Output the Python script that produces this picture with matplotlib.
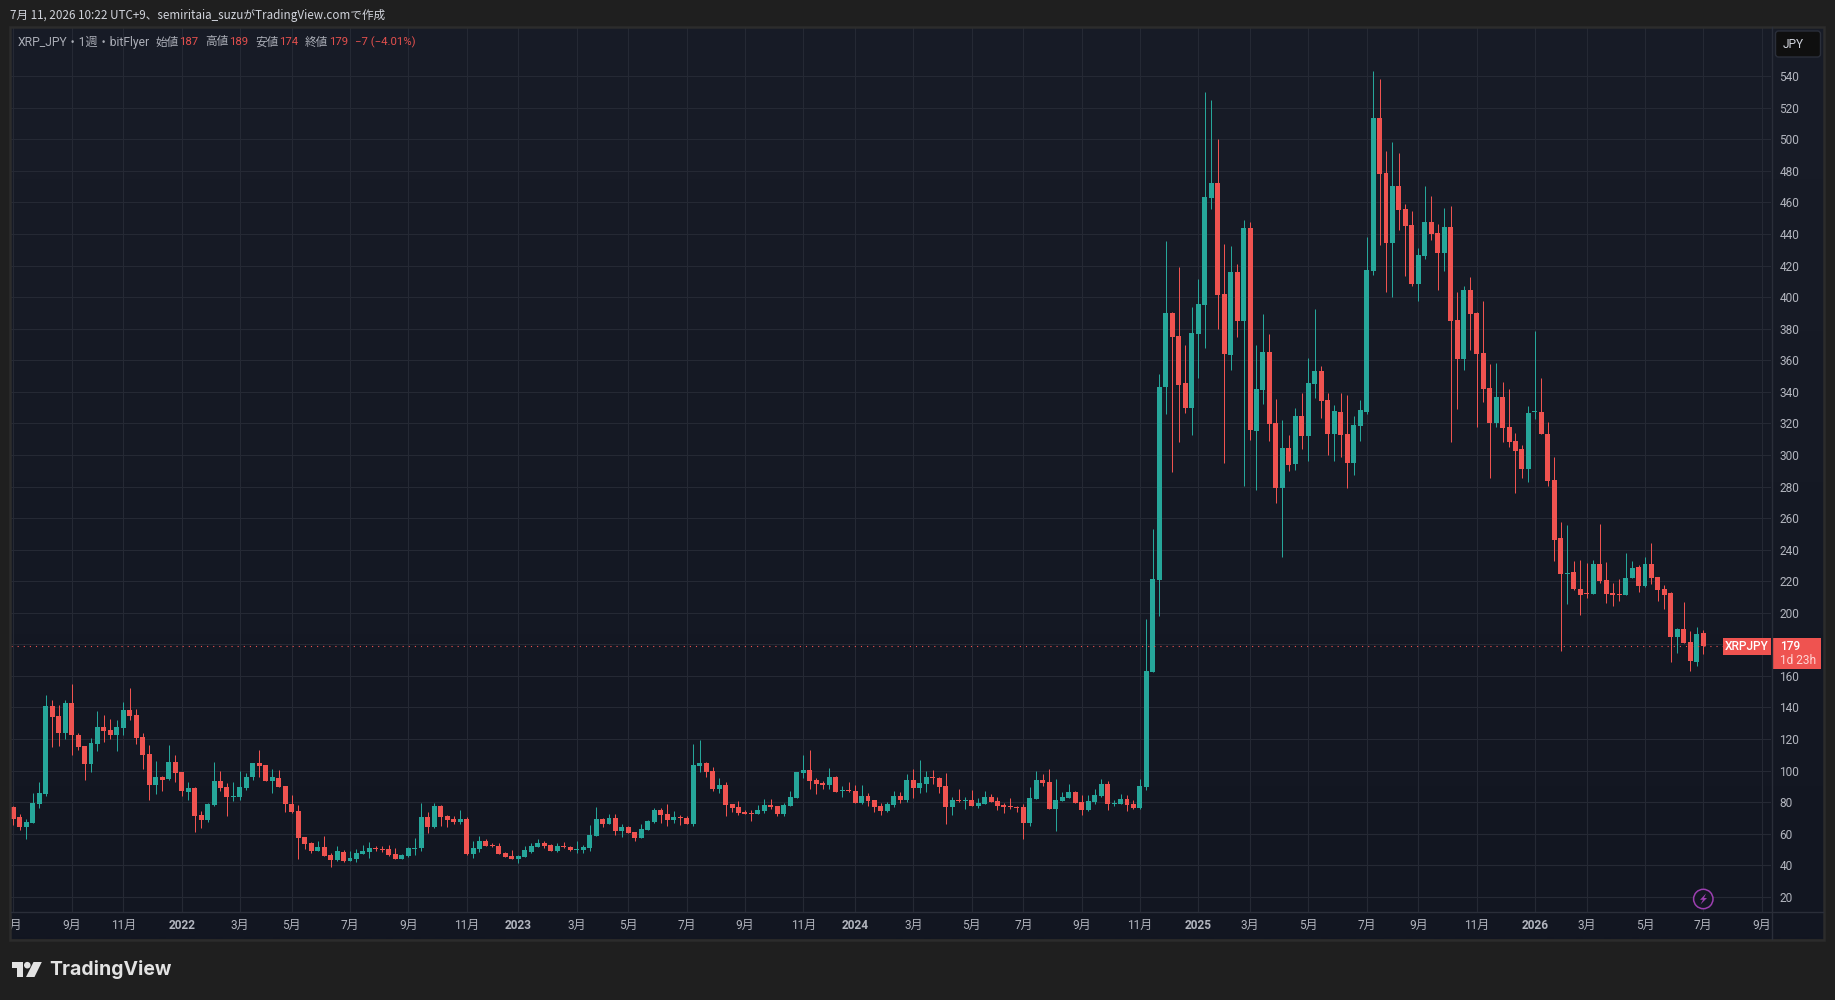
#xrp jpy weekly chart, tradingview dark look

import numpy as np
import matplotlib
matplotlib.use("Agg")
import matplotlib.pyplot as plt
from matplotlib.patches import Rectangle, FancyBboxPatch, Circle, Polygon
from matplotlib.transforms import Affine2D, Bbox

W, H = 1835, 1000

opens = [76.9,70.6,64.3,66.8,78.8,85.2,141,134.6,123.8,142.9,
    122.6,115.6,104.2,116.9,127.6,125.7,122.6,127,138.4,135.2,
    121.3,110.5,90.9,96,94.7,105.5,99.1,86.5,89,71.9,
    68.7,78.2,93.4,89.6,83.3,83.3,89,96,104.8,103.6,
    93.4,95.3,90.3,78.8,74.4,58,54.1,49.1,51.6,46.5,
    43.4,48.4,42.7,44,47.2,48.4,51,50.5,50.3,47.2,
    44,45.9,50.3,51,70.6,64.3,77.6,71.2,69.3,67.4,
    69.3,47.2,50.3,55.4,53,52.2,47.8,45.9,44,45.2,
    48.4,51.6,54.1,52.9,49.1,52.2,51.6,49.7,49.7,51,
    58.6,69.3,66.2,70,61.7,64.3,61.1,57.3,62.4,67.4,
    75,72.5,68.7,70.6,70,66.2,102.9,104.8,99.8,88.3,
    90.9,78.8,76.9,73.8,73.1,72.5,74.4,78.2,77.6,72.5,
    77.6,82.7,98.5,100.4,94.1,92.2,90.9,96,87.1,87.7,
    87.1,79.5,83.9,81.4,77.6,74.4,78.2,83.9,81.4,94.1,
    89,91.5,96,95.3,90.2,76.9,81.4,80.7,81.4,77.6,
    78.8,83.3,80.7,78.2,77.6,77.1,76.9,66.8,82,94.1,
    92.8,75.7,80.7,82.6,86.5,80.1,75,80.1,83.9,91.5,
    78.8,78.8,82,78.8,76.3,89.6,162.5,220.8,343.1,390,
    375.4,345.6,329.8,376.7,395,462.9,472.4,402,363.4,416,
    384.9,443.9,315.2,341.2,365.3,320.3,279.1,304.4,294.3,324.7,
    312,345,353.3,334.8,313.3,327.3,313.3,295,318.4,327.3,
    416.6,513.6,478.7,434.4,470.5,455.9,445.8,408.4,426.1,447.7,
    440.7,428,444.5,385.6,360.8,404.6,390,364.6,342.5,320.3,
    336.8,317.8,308.9,303.8,291.1,327.3,327.3,313.3,284.1,247.4,
    224.6,225.8,215,212.5,211.9,230.9,220.8,212.5,211.9,211.3,
    222,229,217,230.9,222.7,215,212.5,184.6,189.7,181.5,168.8,187]

closes = [69.3,64.3,67.4,79.5,85.8,141,134,123.8,142.9,122.6,
    115,104.2,117.5,127.6,125.1,122.6,127.6,138.4,134.6,120.7,
    109.9,90.9,96,94.1,105.5,98.5,87.1,89,71.2,68.7,
    78.8,93.4,89,83.3,83.9,89.6,96,104.8,102.9,93.4,
    96,89.6,78.8,73.8,57.3,53.5,49.1,51.6,45.9,43.4,
    49.1,42.7,44.6,47.8,49.1,51,50.3,49.9,46.5,44,
    46.5,51,51,70.6,64.3,77.6,70.6,68.7,67.4,69.3,
    47.2,51,55.4,52.2,52.4,47.2,45.2,44,45.9,49.7,
    52.2,54.1,52.2,49.1,52.2,51.6,49.7,50.3,51.6,59.2,
    69.3,66.2,70,61.7,64.3,60.5,57.3,63,68.1,75,
    71.9,68.7,70.6,70,66.2,103.6,104.8,99.1,88.3,90.9,
    78.2,76.3,73.1,72.5,72.5,75,78.2,76.9,72.5,78.2,
    83.3,99.1,100.4,93.4,91.5,90.9,96,86.5,87.7,87.1,
    79.5,83.9,80.7,76.9,74.4,78.8,83.9,81.4,94.1,89,
    92.2,96,95.3,89.6,76.9,81.4,80.7,81.4,77.6,79.5,
    83.3,80.1,77.6,76.9,76.9,76.5,66.8,82.6,94.1,92.2,
    75.7,81.4,83.3,86.5,79.5,75,80.7,84.5,91.5,78.8,
    79.5,82,78.2,76.3,90.2,163.1,221.4,343.1,390,374.8,
    344.4,329.8,377.3,395.7,463.5,472.4,401.4,364,416,384.9,
    443.9,315.9,341.8,365.3,319.7,279.1,304.4,293.7,324.7,312,
    345.6,353.3,334.2,313.3,327.9,312.7,295,319,328.5,417.2,
    513.6,478.1,434.4,470.5,455.3,445.1,408.4,426.7,447.7,440,
    428,444.5,384.9,360.8,404.6,389.4,364,341.8,320.3,336.8,
    317.1,308.2,302.5,291.1,326.6,327.9,313.3,283.5,246.1,224.6,
    225.2,215,211.3,211.9,230.9,220.1,211.9,211.3,211.3,222,
    228.4,217,230.9,222,214.4,211.3,184.6,189.7,180.8,169.4,186.5,179]

highs = [77.6,72.5,69.3,85.8,92.8,147.9,144.8,141.6,144.8,154.9,
    123.8,115.6,120.7,137.8,135.2,132.7,132.1,143.5,152.4,139,
    123.8,116.2,106.1,96.6,116.2,109.9,99.1,92.8,89.6,74.4,
    79.5,105.5,99.8,92.2,92.8,99.8,98.5,104.8,113.1,103.6,
    101,100.4,90.3,84.5,78.2,58,54.8,55.4,58.6,47.8,
    52.2,49.7,49.1,50.3,52.9,54.8,52.2,52.2,52.9,51,
    47,51.6,57.3,79.5,73.8,79.5,78.2,71.9,71.2,75,
    70.6,55.4,58.6,56.7,54.1,54.1,48.4,49.7,46.5,52.2,
    54.1,56.7,55.4,53.5,54.1,54.8,52.2,55.4,52.9,65.5,
    76.9,70,72.5,72.5,66.2,64.9,61.1,66.2,68.7,76.3,
    76.3,78.8,74.4,71.9,71.2,116.9,119.4,105.5,102.3,95.3,
    92.8,78.8,80.7,75,75,78.2,82,82,77.6,79.5,
    87.1,99.4,109.9,113.1,95.3,93.4,101.7,96.6,90.3,92.8,
    90.9,90.9,85.8,81.4,79.5,80.1,87.1,86.5,97.9,101,
    106.7,99.8,100.4,96,98.5,83.3,88.3,83.3,87.7,82.6,
    87.1,85.2,83.3,79.5,82.6,77.6,78.8,89.6,99.8,97.9,
    101,94.7,86.5,91.5,87.1,84.5,84.5,88.3,94.7,93.4,
    81.4,85.2,84.5,81.4,94.7,196.1,253.1,351.3,435.6,390.6,
    419.2,369.7,393.8,411.5,530,525,500.3,433.7,432.5,421,
    448.9,447.7,369.7,389.4,376.7,335.5,322.2,312.7,329.8,339.3,
    361.5,392.5,356.4,339.3,331.7,339.3,338,324.7,334.9,438.2,
    543.4,538.3,492.7,498.4,491.4,459,454.6,431.2,470.5,464.1,
    446.4,456.5,457.8,403.3,407.1,412.8,390.6,397.6,357.7,358.3,
    346.3,341.8,314,306.3,331,378.6,348.8,321,298.7,257.5,
    255.6,232.8,233.4,231.5,233.4,256.2,232.2,218.9,221.4,237.9,
    232.8,230.3,235.3,244.2,222.7,217.6,213.2,190.3,206.8,188.4,191,189]

lows = [65.5,62.4,56.7,66.8,76.3,83.9,115,115.6,120,109.9,
    113.1,94.1,99.1,112.4,118.1,120,112.4,122.6,132.1,116.9,
    101,81.4,85.2,87.1,94.1,92.8,83.9,81.4,61.1,63.6,
    67.4,77.6,87.1,71.2,80.8,81.4,87.7,94.1,96,93.4,
    85.8,89.6,73.8,73.1,44,50.3,47.8,49.1,45.9,38.9,
    42.7,42.1,42.7,42.1,47.2,44.6,49.1,48.4,45.9,44,
    44,45.2,46.5,49.1,60.5,63.6,64.9,64.3,66.2,66.2,
    46.5,44.6,48.4,52.2,51.6,47.2,45.2,44,41.5,45.2,
    47.8,51.6,51,49.1,48.4,51,49.1,47.8,47.8,49.1,
    58.6,64.3,66.2,59.2,57.9,60.5,55.4,57.3,62.4,66.8,
    66.8,64.9,66.8,65.5,66.2,64.9,99.1,96,87.1,85.8,
    71.2,73.8,71.9,72.5,68.1,72.5,73.1,75.7,71.2,71.2,
    77.6,82.4,95.3,88.4,85.2,88.3,88.3,86.5,83.3,86.5,
    79.5,78.8,77.6,73.8,71.9,73.8,76.9,79.5,80.1,82.6,
    85.8,86.5,91.5,85.8,66.2,71.9,80.1,75.7,77.6,76.3,
    78.8,80.1,75,73.1,75.7,73.8,56.7,64.9,82,90.2,
    75.7,61.7,80.7,82.6,79.5,71.9,74.4,78.8,83.3,75,
    77.6,78.8,74.4,75.7,75.7,87.7,162.5,198,326,289.2,
    308.2,326.6,312.7,348.8,367.8,455.9,379.9,295,353.9,374.8,
    280.4,309.5,277.8,332.3,308.9,269.6,235.4,289.9,290.5,303.8,
    296.2,336.1,323.4,300,296.2,298.7,279.1,287.3,308.9,326,
    414,433.1,403.3,400.1,442.6,413.4,407.1,397.6,424.2,436.3,
    404.6,416.6,308.2,329.2,353.9,366.6,317.8,333.6,285.4,317.8,
    308.2,305.1,276,285.4,282.9,322.8,313.3,280.4,232.8,175.8,
    205.5,214.4,198.6,209.4,211.9,218.9,206.2,204.3,207.4,211.3,
    222,213.2,216.3,218.2,207.4,202.4,168.8,174.5,180.8,163.1,166.3,174]

# month gridlines, position is the bar number
tick_bars = [0,9,17,26,35,43,52,61,70,78,87,95,104,113,122,130,139,148,156,165,
    174,183,191,200,209,217,226,235,243,252,261,270]
tick_labels = ["7月","9月","11月","2022","3月","5月","7月","9月","11月","2023","3月","5月",
    "7月","9月","11月","2024","3月","5月","7月","9月","11月","2025","3月","5月","7月",
    "9月","11月","2026","3月","5月","7月","9月"]
price_ticks = list(range(20, 541, 20))
last_price = 179

GREEN = "#26a69a"
RED = "#ef5350"
GRID = "#252934"
SEP = "#2a2e39"
BG = "#1f1f1f"
TXT = "#b2b5be"

plt.rcParams["font.family"] = ["Roboto", "Noto Sans CJK JP", "DejaVu Sans"]

fig = plt.figure(figsize=(W / 100, H / 100), dpi=100, facecolor=BG)
# everything outside the plot is placed in screen pixels, y going down
PX = Affine2D().scale(1 / W, -1 / H).translate(0, 1) + fig.transFigure

# pane background with the soft vertical gradient
bg_ax = fig.add_axes([11 / W, (H - 939) / H, (1823 - 11) / W, (939 - 27) / H], zorder=-1)
shade = np.linspace(0, 1, 256).reshape(-1, 1)
top_c, bottom_c = np.array([24, 28, 39]) / 255, np.array([18, 22, 33]) / 255
bg_ax.imshow(top_c + (bottom_c - top_c) * shade[..., None], aspect="auto", interpolation="bilinear")
bg_ax.axis("off")

ax = fig.add_axes([11 / W, (H - 912) / H, (1771 - 11) / W, (912 - 27) / H], facecolor="none")
x = np.arange(len(opens))
o, c, hi, lo = map(np.array, (opens, closes, highs, lows))
colors = [GREEN if b >= a else RED for a, b in zip(o, c)]

ax.vlines(x, lo, hi, colors=colors, linewidth=0.72, zorder=3)
ax.bar(x, np.abs(c - o), bottom=np.minimum(o, c), width=0.77, color=colors, linewidth=0, zorder=4)
ax.axhline(last_price, color=RED, linewidth=0.8, linestyle=(0, (1, 4.5)), zorder=5)

ax.set_xlim(-0.355, 271.46)
ax.set_ylim(10.4, 571.2)
ax.yaxis.tick_right()
ax.set_yticks(price_ticks)
ax.set_xticks(tick_bars)
ax.set_xticklabels(tick_labels)
ax.tick_params(length=0, labelsize=8.6, labelcolor=TXT)
ax.tick_params(axis="y", pad=6)
ax.tick_params(axis="x", pad=5)
ax.grid(True, color=GRID, linewidth=0.8)
ax.set_axisbelow(True)
for s in ax.spines.values():
    s.set_visible(False)

for lab in ax.get_yticklabels():
    lab.set_va("center_baseline")
for lab in ax.get_xticklabels():
    if not lab.get_text().endswith("月"):
        lab.set_fontweight("bold")
# the first month label runs off the left edge of the pane
ax.get_xticklabels()[0].set_clip_box(Bbox([[11, 0], [1771, H]]))
ax.get_xticklabels()[0].set_clip_on(True)

# pane frame and axis separators
fig.add_artist(Rectangle((10, 26.5), 1814, 913, transform=PX, fill=False, ec="#2c2c2c", lw=1.8))
fig.add_artist(plt.Line2D([11, 1823], [912, 912], transform=PX, color=SEP, lw=1))
fig.add_artist(plt.Line2D([1771.5, 1771.5], [27, 939], transform=PX, color=SEP, lw=1))

# header
fig.text(10, 15, "7月 11, 2026 10:22 UTC+9、semiritaia_suzuがTradingView.comで作成", transform=PX,
         color="#d1d4dc", fontsize=8.4, va="center", family=["Noto Sans CJK JP", "DejaVu Sans"])

legend_items = [(17.5, "XRP_JPY・1週・bitFlyer", TXT, 8.7), (155, "始値", TXT, 8.4), (179, "187", RED, 8.2),
                (205, "高値", TXT, 8.4), (229, "189", RED, 8.2), (255, "安値", TXT, 8.4), (279, "174", RED, 8.2),
                (305, "終値", TXT, 8.4), (329, "179", RED, 8.2), (355, "−7 (−4.01%)", RED, 8.2)]
for lx, s, col, fs in legend_items:
    fig.text(lx, 42, s, transform=PX, color=col, fontsize=fs, va="center", alpha=0.95)

# currency button
fig.add_artist(FancyBboxPatch((1775.5, 31), 45, 26, boxstyle="round,pad=0,rounding_size=3", transform=PX,
                              fc="#0f0f0f", ec=SEP, lw=1))
fig.text(1793, 44, "JPY", transform=PX, color="#d1d4dc", fontsize=8.6, va="center", ha="center")

# last price labels
fig.add_artist(Rectangle((1723, 638), 48, 17, transform=PX, fc=RED, ec="none"))
fig.add_artist(Rectangle((1772, 638), 49, 30.5, transform=PX, fc=RED, ec="none"))
fig.text(1747, 646.5, "XRPJPY", transform=PX, color="white", fontsize=8.6, va="center", ha="center", fontweight="medium")
fig.text(1780, 647, str(last_price), transform=PX, color="white", fontsize=8.6, va="center", fontweight="medium")
fig.text(1780, 661, "1d 23h", transform=PX, color="#ffd5d4", fontsize=8.6, va="center")

# lightning marker
fig.add_artist(Circle((1703.3, 899), 9.7, transform=PX, fc="#131722", ec="#9c3fb0", lw=1.1))
fig.add_artist(Polygon([(1706, 893.5), (1700, 899.8), (1703, 899.8), (1700.5, 904.5), (1707, 898), (1704, 898)],
                       transform=PX, fc="#9c3fb0", ec="none"))

# logo
LOGO = "#e3e3e3"
fig.add_artist(Polygon([(12, 962), (23.3, 962), (23.3, 977), (17.3, 977), (17.3, 968), (12, 968)],
                       transform=PX, fc=LOGO, ec="none"))
fig.add_artist(Circle((27.3, 965.2), 3.3, transform=PX, fc=LOGO, ec="none"))
fig.add_artist(Polygon([(33.5, 962), (41.8, 962), (34.5, 977), (26, 977)], transform=PX, fc=LOGO, ec="none"))
fig.text(49, 969.5, "TradingView", transform=PX, color=LOGO, fontsize=14, va="center", family="Inter", fontweight="bold")

fig.savefig("out.png", dpi=100, facecolor=BG)
